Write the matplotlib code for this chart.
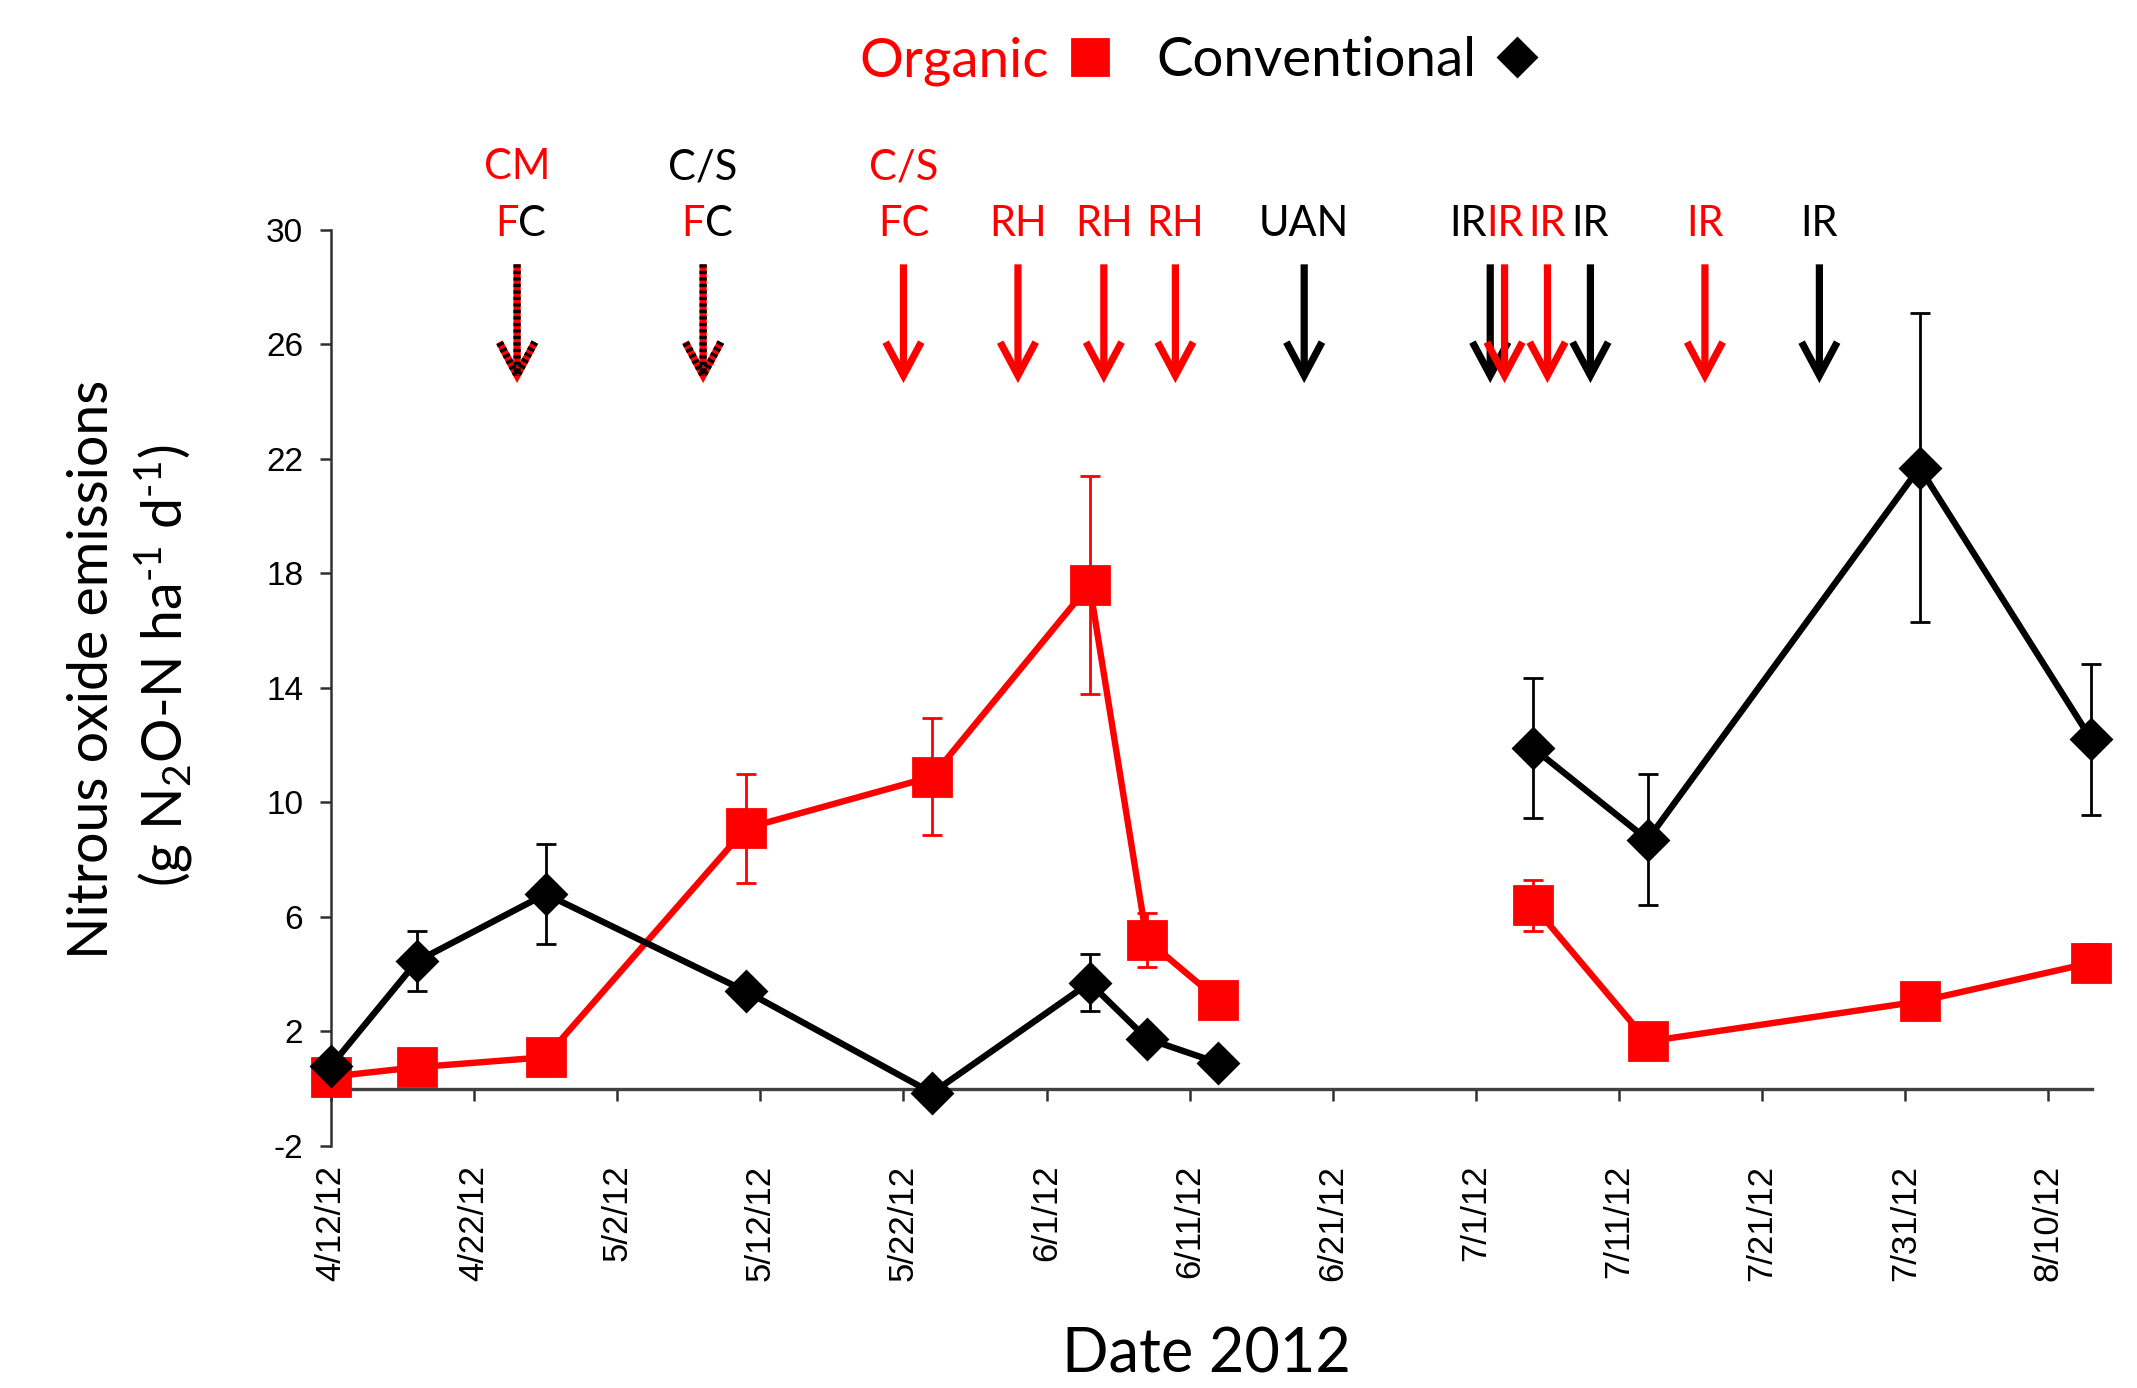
import matplotlib.pyplot as plt
import matplotlib.dates as mdates
from matplotlib.lines import Line2D
from matplotlib.patches import FancyArrowPatch
import pandas as pd

plt.rcParams['font.family'] = ['Lato', 'DejaVu Sans']
plt.rcParams['mathtext.default'] = 'regular'

# sampling dates (shared by both systems); sampling break between 6/13 and 7/5
sample_dates = ['2012-04-12', '2012-04-18', '2012-04-27', '2012-05-11', '2012-05-24', '2012-06-04',
                '2012-06-08', '2012-06-13', '2012-07-05', '2012-07-13', '2012-08-01', '2012-08-13']
season_break = 8

organic = [0.42, 0.75, 1.1, 9.1, 10.9, 17.6, 5.2, 3.1, 6.4, 1.65, 3.05, 4.4]
organic_err = [0.2, 0.3, 0.3, 1.9, 2.05, 3.8, 0.95, 0.3, 0.9, 0.4, 0.4, 0.65]

conventional = [0.8, 4.45, 6.8, 3.4, -0.15, 3.7, 1.75, 0.9, 11.9, 8.7, 21.7, 12.2]
conventional_err = [0.2, 1.05, 1.75, 0.3, 0.2, 1.0, 0.3, 0.2, 2.45, 2.3, 5.4, 2.65]

# management events: CM compost manure, C/S cultivation/seeding, FC field cultivation,
# RH rotary hoe, UAN fertilizer, IR irrigation
event_dates = ['2012-04-25', '2012-05-08', '2012-05-22', '2012-05-30', '2012-06-05', '2012-06-10',
               '2012-06-19', '2012-07-02', '2012-07-03', '2012-07-06', '2012-07-09', '2012-07-17',
               '2012-07-25']
event_upper = ['CM', 'C/S', 'C/S', '', '', '', '', '', '', '', '', '', '']
event_upper_system = ['organic', 'conventional', 'organic', '', '', '', '', '', '', '', '', '', '']
event_lower = ['FC', 'FC', 'FC', 'RH', 'RH', 'RH', 'UAN', 'IR', 'IR', 'IR', 'IR', 'IR', 'IR']
event_system = ['both', 'both', 'organic', 'organic', 'organic', 'organic', 'conventional',
                'conventional', 'organic', 'organic', 'conventional', 'organic', 'conventional']

yticks = [-2, 2, 6, 10, 14, 18, 22, 26, 30]
xtick_dates = ['2012-04-12', '2012-04-22', '2012-05-02', '2012-05-12', '2012-05-22', '2012-06-01',
               '2012-06-11', '2012-06-21', '2012-07-01', '2012-07-11', '2012-07-21', '2012-07-31',
               '2012-08-10']

RED = '#ff0000'
colors = {'organic': RED, 'conventional': 'black'}

dates = pd.to_datetime(sample_dates)
ev_dates = pd.to_datetime(event_dates)

fig = plt.figure(figsize=(10.685, 6.94), dpi=200)
ax = fig.add_axes([0.1549, 0.1744, 0.824, 0.6599])

# spine layout first: moving a spine rebuilds its ticks
ax.spines['top'].set_visible(False)
ax.spines['right'].set_visible(False)
ax.spines['bottom'].set_position(('data', 0))
ax.spines['bottom'].set_color('#404040')
ax.spines['bottom'].set_linewidth(1.2)
ax.spines['left'].set_color('#303030')
ax.spines['left'].set_linewidth(0.9)

# error bars first so the markers sit on top
ax.errorbar(dates, organic, yerr=organic_err, fmt='none', ecolor=RED, elinewidth=1.0,
            capsize=3.5, capthick=1.0, zorder=2, clip_on=False)
ax.errorbar(dates, conventional, yerr=conventional_err, fmt='none', ecolor='black', elinewidth=1.0,
            capsize=3.5, capthick=1.0, zorder=2, clip_on=False)

for part in (slice(0, season_break), slice(season_break, None)):
    ax.plot(dates[part], organic[part], color=RED, lw=2.3, marker='s', ms=13.7,
            mec=RED, mfc=RED, zorder=3, clip_on=False)
    ax.plot(dates[part], conventional[part], color='black', lw=2.3, marker='D', ms=10,
            mec='black', mfc='black', zorder=4, clip_on=False)

# axes styling
ax.set_ylim(-2, 30)
ax.set_xlim(pd.Timestamp('2012-04-12'), pd.Timestamp('2012-08-13 01:00'))
ax.set_yticks(yticks)
ax.set_yticklabels([str(v) for v in yticks], family='Liberation Sans', fontsize=12)
xt = pd.to_datetime(xtick_dates)
ax.set_xticks(xt)
ax.set_xticklabels([f'{d.month}/{d.day}/{d.strftime("%y")}' for d in xt],
                   family='Liberation Sans', fontsize=12.5)
ax.tick_params(axis='y', direction='out', length=4, width=0.9, pad=6, colors='#303030',
               labelcolor='black')
ax.tick_params(axis='x', direction='out', length=4.3, width=0.9, pad=23, colors='#303030',
               labelcolor='black', labelrotation=90)

# management arrows and labels
y_top, y_tip = 28.8, 24.65
arrowstyle = '->,head_length=12,head_width=6.4'
for i, d in enumerate(ev_dates):
    x = mdates.date2num(d)
    system = event_system[i]
    if system == 'both':
        ax.add_patch(FancyArrowPatch((x, y_top), (x, y_tip), arrowstyle=arrowstyle,
                                     color=RED, lw=2.6, shrinkA=0, shrinkB=0,
                                     joinstyle='miter', capstyle='butt', zorder=5))
        ax.add_patch(FancyArrowPatch((x, y_top), (x, y_tip), arrowstyle=arrowstyle,
                                     color='black', lw=2.6, shrinkA=0, shrinkB=0,
                                     linestyle=(0, (0.45, 0.45)),
                                     joinstyle='miter', capstyle='butt', zorder=6))
    else:
        ax.add_patch(FancyArrowPatch((x, y_top), (x, y_tip), arrowstyle=arrowstyle,
                                     color=colors[system], lw=2.6, shrinkA=0, shrinkB=0,
                                     joinstyle='miter', capstyle='butt', zorder=5))

    # lower label row
    label = event_lower[i]
    dx = -8 if i == 7 else 0
    if system == 'both':
        ax.annotate(label[0], (x, 30.2), xytext=(dx + 0.5, 0), textcoords='offset points',
                    ha='right', va='center', color=RED, fontsize=15, annotation_clip=False)
        ax.annotate(label[1:], (x, 30.2), xytext=(dx + 0.5, 0), textcoords='offset points',
                    ha='left', va='center', color='black', fontsize=15, annotation_clip=False)
    else:
        ax.annotate(label, (x, 30.2), xytext=(dx, 0), textcoords='offset points',
                    ha='center', va='center', color=colors[system], fontsize=15,
                    annotation_clip=False)
    # upper label row
    if event_upper[i]:
        ax.annotate(event_upper[i], (x, 32.2), xytext=(0, 0), textcoords='offset points',
                    ha='center', va='center', color=colors[event_upper_system[i]],
                    fontsize=15, annotation_clip=False)

# axis titles
fig.text(0.0435, 0.518, 'Nitrous oxide emissions', rotation=90, ha='center', va='center',
         fontsize=20)
fig.text(0.0768, 0.52, '(g N$_2$O-N ha$^{\u20101}$ d$^{\u20101}$)', rotation=90, ha='center',
         va='center', fontsize=20)
fig.text(0.5645, 0.0235, 'Date 2012', ha='center', va='center', fontsize=22)

# legend: text followed by its marker
handles = [Line2D([], [], color=RED, marker='s', ls='none', ms=13),
           Line2D([], [], color='black', marker='D', ls='none', ms=9.5)]
fig.legend(handles, ['Organic', 'Conventional'], loc='center', ncol=2,
           bbox_to_anchor=(0.5625, 0.956), frameon=False, markerfirst=False,
           labelcolor=[RED, 'black'], fontsize=19.7, handlelength=1.0, handletextpad=0.25,
           columnspacing=0.7)

fig.savefig('out.png', dpi=200)
